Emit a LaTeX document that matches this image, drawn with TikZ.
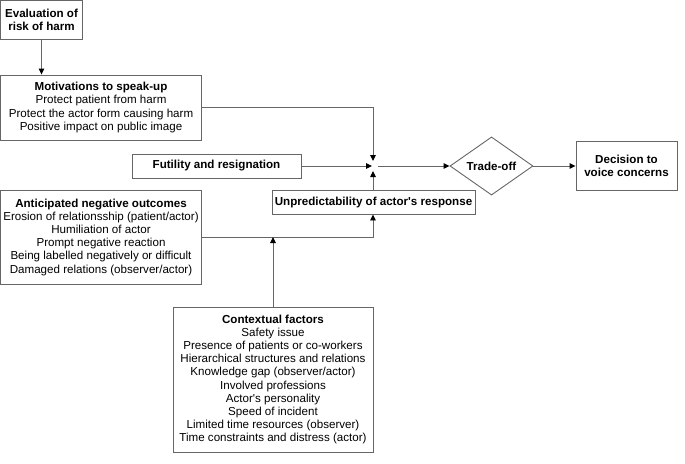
\documentclass[tikz,border=0pt]{standalone}
\usepackage{fontspec}
\setmainfont{Liberation Sans}
\usetikzlibrary{shapes.geometric,arrows.meta}
\definecolor{lc}{gray}{0.4}
\tikzset{
  box/.style={draw=lc, line width=0.9pt, inner sep=0pt, align=center, font=\fontsize{11.6}{13.2}\selectfont},
  conn/.style={draw=lc, line width=0.9pt},
  arr/.style={conn, -{Triangle[length=6pt,width=5.5pt,fill=black,color=black]}},
}
\begin{document}
\begin{tikzpicture}[x=1pt,y=-1pt]
\useasboundingbox (0,0) rectangle (685,463);
\node[box, minimum width=82pt, minimum height=39pt] (eval) at (41.5,20) {\textbf{Evaluation of}\\\textbf{risk of harm}};
\node[box, minimum width=201pt, minimum height=65pt] (motiv) at (101,107.5) {\textbf{Motivations to speak-up}\\Protect patient from harm\\Protect the actor form causing harm\\Positive impact on public image};
\node[box, minimum width=169pt, minimum height=24pt] (fut) at (216.5,166) {\textbf{Futility and resignation}};
\node[box, minimum width=203pt, minimum height=24pt] (unp) at (373.5,202) {\textbf{Unpredictability of actor\textquotesingle s response}};
\node[box, diamond, minimum width=83pt, minimum height=58pt] (trade) at (491.5,166) {\textbf{Trade-off}};
\node[box, minimum width=101pt, minimum height=49pt] (dec) at (626.5,166) {\textbf{Decision to}\\\textbf{voice concerns}};
\node[box, minimum width=201pt, minimum height=94pt] (ant) at (101,237) {\textbf{Anticipated negative outcomes}\\Erosion of relationsship (patient/actor)\\Humiliation of actor\\Prompt negative reaction\\Being labelled negatively or difficult\\Damaged relations (observer/actor)};
\node[box, minimum width=200pt, minimum height=145pt] (ctx) at (273,379.5) {\textbf{Contextual factors}\\Safety issue\\Presence of patients or co-workers\\Hierarchical structures and relations\\Knowledge gap (observer/actor)\\Involved professions\\Actor\textquotesingle s personality\\Speed of incident\\Limited time resources (observer)\\Time constraints and distress (actor)};
\coordinate (jn) at (373,161);
\coordinate (jw) at (372,166);
\coordinate (js) at (373,171);
\coordinate (je) at (378,166);
\coordinate (cm) at (273,237);
\draw[arr] (eval.south) -- (motiv.north -| eval.south);
\draw[arr] (motiv.east) -| (jn);
\draw[arr] (fut.east) -- (jw);
\draw[arr] (unp.north -| js) -- (js);
\draw[arr] (je) -- (trade.west);
\draw[arr] (trade.east) -- (dec.west);
\draw[arr] (ant.east) -| (unp.south -| js);
\draw[arr] (ctx.north) -- (cm);
\end{tikzpicture}
\end{document}
